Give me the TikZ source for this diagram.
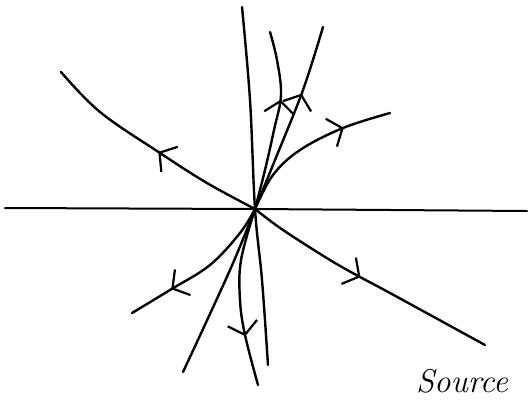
\documentclass[tikz,border=0pt]{standalone}
\usepackage{tikz}
\usetikzlibrary{arrows.meta, decorations.markings}

\begin{document}
\begin{tikzpicture}[
  x=1pt, y=-1pt,
  axis/.style={line width=2pt, line cap=round},
  orbit/.style={line width=2.4pt, line cap=round, smooth, tension=0.6},
  flow/.style={
    postaction={decorate},
    decoration={markings,
      mark=at position #1 with {\arrow{Straight Barb[length=12pt, width=30pt, line width=2.2pt]}}}
  },
  caption/.style={font=\fontsize{33}{38}\selectfont\itshape, inner sep=0pt}
]
\useasboundingbox (0,0) rectangle (530,410);

% Fixed point
\coordinate (O) at (255,209);

% Axes
\coordinate (xl) at (5,208);
\coordinate (xr) at (527,211);
\draw[axis] (xl) -- (O) -- (xr);

% Nearly vertical line through the source
\draw[orbit] plot coordinates {(242,7) (250,100) (O) (262,280) (268,365)};

% Upper-left / lower-right line
\draw[orbit, flow=0.47] plot coordinates {(O) (207,183) (160,153) (100,112) (61,72)};
\draw[orbit, flow=0.47] plot coordinates {(O) (283,230) (330,260) (360,277) (390,293) (485,345)};

% Trajectories leaving upwards
\draw[orbit, flow=0.62] plot coordinates {(O) (265,170) (274,130) (281,95) (277,60) (270,32)};
\draw[orbit, flow=0.64] plot coordinates {(O) (275,160) (303,90) (323,27)};
\draw[orbit, flow=0.72] plot coordinates {(O) (273,175) (300,150) (343,128) (390,113)};

% Trajectories leaving downwards
\draw[orbit, flow=0.72] plot coordinates {(O) (240,233) (210,265) (170,290) (132,313)};
\draw[orbit] plot coordinates {(O) (230,270) (183,372)};
\draw[orbit, flow=0.72] plot coordinates {(O) (241,260) (240,300) (245,335) (258,385)};

% Caption
\node[caption] (name) at (462,381) {Source};

\end{tikzpicture}
\end{document}
